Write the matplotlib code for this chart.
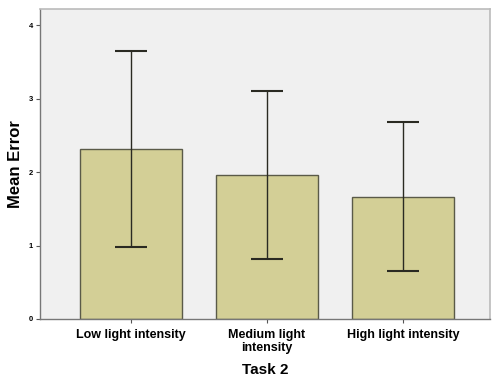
import numpy as np
import matplotlib
matplotlib.use('Agg')
import matplotlib.pyplot as plt

# valores
categorias = ['Low light intensity', 'Medium light\nintensity', 'High light intensity']
medias = [2.32, 1.96, 1.66]
erro_sup = [3.65, 3.11, 2.69]
erro_inf = [0.98, 0.82, 0.65]
yticks = [0, 1, 2, 3, 4]

plt.rcParams['font.family'] = ['Liberation Sans', 'DejaVu Sans']

fig = plt.figure(figsize=(4.92, 3.87), dpi=100)
ax = fig.add_axes([0.0813, 0.176, 0.915, 0.8])
ax.set_facecolor('#f0f0f0')

x = np.arange(len(categorias))
medias = np.array(medias)
yerr = [medias - np.array(erro_inf), np.array(erro_sup) - medias]

ax.bar(x, medias, width=0.75, color='#d3cf96', edgecolor='#5a5a48', linewidth=1.0, zorder=2)
ax.errorbar(x, medias, yerr=yerr, fmt='none', ecolor='#2a2a22', elinewidth=1.0,
            capsize=11.5, capthick=1.5, zorder=3)

ax.set_xlim(-0.667, 2.64)
ax.set_ylim(0, 4.22)
ax.set_xticks(x)
ax.set_xticklabels(categorias, fontsize=9, fontweight='bold', linespacing=1.1)
ax.set_yticks(yticks)
ax.set_yticklabels([str(v) for v in yticks], fontsize=5.5, fontweight='bold')
ax.tick_params(axis='both', length=3, width=0.8, color='#555555', pad=2)
ax.tick_params(axis='x', pad=4)

for s in ['left', 'bottom']:
    ax.spines[s].set_color('#777777')
    ax.spines[s].set_linewidth(1.0)
for s in ['top', 'right']:
    ax.spines[s].set_color('#bbbbbb')
    ax.spines[s].set_linewidth(1.2)

ax.set_ylabel('Mean Error', fontsize=12, fontweight='bold', labelpad=4)
ax.set_xlabel('Task 2', fontsize=11, fontweight='bold', labelpad=7)

fig.savefig('out.png', dpi=100)
